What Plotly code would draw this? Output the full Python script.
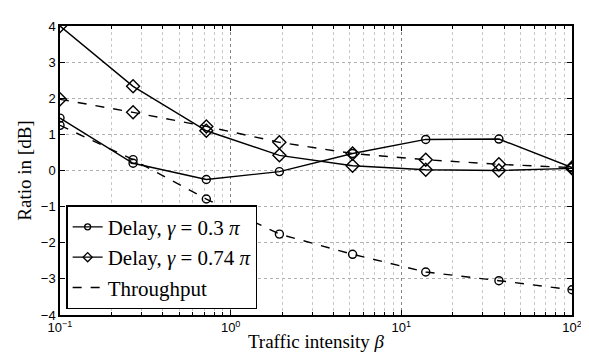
import plotly.graph_objects as go

beta = [0.1, 0.268, 0.72, 1.93, 5.18, 13.9, 37.3, 100]
delay_03 = [1.45, 0.2, -0.25, -0.03, 0.47, 0.86, 0.87, 0.08]
delay_074 = [4.0, 2.33, 1.1, 0.42, 0.13, 0.02, 0.0, 0.06]
thr_03 = [1.25, 0.3, -0.79, -1.76, -2.32, -2.81, -3.05, -3.3]
thr_074 = [1.97, 1.61, 1.22, 0.78, 0.47, 0.3, 0.17, 0.08]
xtick_vals = [0.1, 1, 10, 100]
xtick_text = ["10<sup>−1</sup>", "10<sup>0</sup>", "10<sup>1</sup>", "10<sup>2</sup>"]
ytick_vals = [-4, -3, -2, -1, 0, 1, 2, 3, 4]
ytick_text = ["−4", "−3", "−2", "−1", "0", "1", "2", "3", "4"]
x_minor = [m * d for d in (0.1, 1, 10) for m in range(2, 10)]
legend_names = ["Delay, <i>γ</i> = 0.3 <i>π</i>", "Delay, <i>γ</i> = 0.74 <i>π</i>", "Throughput"]

LW = 1.4
CS, DS = 8, 10
fig = go.Figure()
fig.add_trace(go.Scatter(x=beta, y=thr_03, mode="lines+markers", showlegend=False,
                         line=dict(color="black", width=LW, dash="dash"),
                         marker=dict(symbol="circle-open", size=CS, color="black", line=dict(width=1.4))))
fig.add_trace(go.Scatter(x=beta, y=thr_074, mode="lines+markers", showlegend=False,
                         line=dict(color="black", width=LW, dash="dash"),
                         marker=dict(symbol="diamond-open", size=DS, color="black", line=dict(width=1.4))))
fig.add_trace(go.Scatter(x=beta, y=delay_03, mode="lines+markers", showlegend=False,
                         line=dict(color="black", width=LW),
                         marker=dict(symbol="circle-open", size=CS, color="black", line=dict(width=1.4))))
fig.add_trace(go.Scatter(x=beta, y=delay_074, mode="lines+markers", showlegend=False,
                         line=dict(color="black", width=LW),
                         marker=dict(symbol="diamond-open", size=DS, color="black", line=dict(width=1.4))))
# legend entries
fig.add_trace(go.Scatter(x=[None], y=[None], mode="lines+markers", name=legend_names[0],
                         line=dict(color="black", width=LW),
                         marker=dict(symbol="circle-open", size=6, color="black", line=dict(width=1.3))))
fig.add_trace(go.Scatter(x=[None], y=[None], mode="lines+markers", name=legend_names[1],
                         line=dict(color="black", width=LW),
                         marker=dict(symbol="diamond-open", size=7, color="black", line=dict(width=1.3))))
fig.add_trace(go.Scatter(x=[None], y=[None], mode="lines", name=legend_names[2],
                         line=dict(color="black", width=LW, dash="dash")))

fig.update_layout(
    width=589, height=352,
    margin=dict(l=52, r=25, t=11, b=45),
    plot_bgcolor="white", paper_bgcolor="white",
    font=dict(family="Liberation Sans, Arial", size=12, color="black"),
    legend=dict(x=0.012, y=0.02, xanchor="left", yanchor="bottom",
                bgcolor="white", bordercolor="black", borderwidth=1.5,
                font=dict(family="Liberation Serif, Times New Roman", size=21),
                tracegroupgap=0, itemwidth=30),
    xaxis=dict(type="log", range=[-1, 2], tickvals=xtick_vals, ticktext=xtick_text,
               ticks="inside", ticklen=5, tickcolor="black", showline=True, linecolor="black",
               linewidth=1.5, mirror="ticks", zeroline=False,
               showgrid=True, gridcolor="#888888", griddash="dot", gridwidth=1,
               minor=dict(tickvals=x_minor, ticks="inside", ticklen=3, tickcolor="black",
                          showgrid=True, gridcolor="#c8c8c8", griddash="dot", gridwidth=1),
               title=dict(text="Traffic intensity <i>β</i>", standoff=0,
                          font=dict(family="Liberation Serif, Times New Roman", size=19)),
               tickfont=dict(size=13)),
    yaxis=dict(range=[-4, 4], tickvals=ytick_vals, ticktext=ytick_text,
               ticks="inside", ticklen=5, tickcolor="black", showline=True, linecolor="black",
               linewidth=1.5, mirror="ticks", zeroline=False,
               showgrid=True, gridcolor="#b0b0b0", griddash="dot", gridwidth=1,
               title=dict(text="Ratio in [dB]", standoff=4,
                          font=dict(family="Liberation Serif, Times New Roman", size=19)),
               tickfont=dict(size=13)),
)
fig.write_html("out.html")
